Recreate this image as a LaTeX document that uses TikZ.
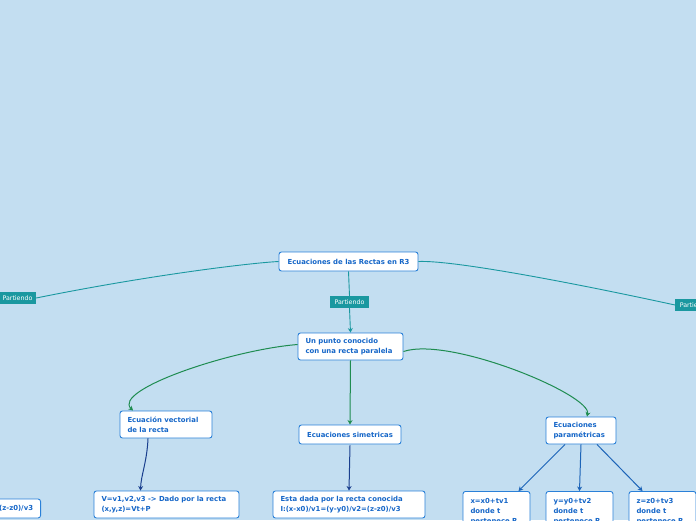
\documentclass[tikz,border=0pt]{standalone}
\usepackage{fontspec}
\setmainfont{DejaVu Sans}
\usetikzlibrary{arrows.meta}
\definecolor{bgc}{HTML}{C3DEF1}
\definecolor{boxborder}{HTML}{2A80D8}
\definecolor{boxtext}{HTML}{1566C8}
\definecolor{tealc}{HTML}{1A98A0}
\definecolor{greenc}{HTML}{1E8C50}
\definecolor{darkbluec}{HTML}{1A3F8E}
\definecolor{midbluec}{HTML}{1C64B8}
\newcommand{\boxfont}{\fontsize{6.9}{10}\selectfont\bfseries}
\newcommand{\labfont}{\fontsize{6.3}{7}\selectfont}
\tikzset{
  mbox/.style={draw=boxborder, fill=white, rounded corners=2.5pt, line width=0.9pt,
    font=\boxfont, text=boxtext, inner xsep=7.5pt, inner ysep=3pt, align=left},
  plabel/.style={fill=tealc, text=white, font=\labfont, inner sep=0pt,
    minimum height=12pt, minimum width=39pt},
  tealline/.style={draw=tealc, line width=0.9pt},
  greenline/.style={draw=greenc, line width=1pt},
  dbline/.style={draw=darkbluec, line width=1pt},
  mbline/.style={draw=midbluec, line width=1pt},
  tip/.style={-{Stealth[length=4.5pt,width=5pt]}}
}
\begin{document}
\begin{tikzpicture}[x=1pt,y=-1pt]
\clip (0,0) rectangle (696,520);
\fill[bgc] (0,0) rectangle (696,520);

% nodes
\node[mbox, minimum width=139pt, minimum height=19pt, align=center] (root) at (348.5,261.5) {Ecuaciones de las Rectas en R3};
\node[plabel] (pc) at (349.5,302) {Partiendo};
\node[plabel, minimum width=37pt] (pl) at (17.5,298) {Partiendo};
\node[plabel, anchor=west] (pr) at (675,305) {Partiendo};

\node[mbox, minimum width=105pt, minimum height=27pt, text width=90pt] (up) at (350.5,346.5) {Un punto conocido\\con una recta paralela};
\node[mbox, minimum width=92pt, minimum height=27pt, text width=77pt] (vec) at (166,424.5) {Ecuación vectorial\\de la recta};
\node[mbox, minimum width=102pt, minimum height=19pt, align=center] (sim) at (350,434.5) {Ecuaciones simetricas};
\node[mbox, minimum width=70pt, minimum height=27pt, text width=55pt] (par) at (581,430.5) {Ecuaciones\\paramétricas};

\node[mbox, minimum width=145pt, minimum height=27pt, text width=130pt] (vecd) at (166.5,504.5) {V=v1,v2,v3 -> Dado por la recta\\(x,y,z)=Vt+P};
\node[mbox, minimum width=152pt, minimum height=27pt, text width=137pt] (simd) at (349,504.5) {Esta dada por la recta conocida\\I:(x-x0)/v1=(y-y0)/v2=(z-z0)/v3};
\node[mbox, minimum height=19pt, anchor=east] (lft) at (41,508.5) {I:(x-x0)/v1=(y-y0)/v2=(z-z0)/v3};

\node[mbox, minimum width=67pt, minimum height=40pt, text width=52pt, anchor=north] (px) at (496.5,491) {x=x0+tv1\\donde t\\pertenece R.};
\node[mbox, minimum width=67pt, minimum height=40pt, text width=52pt, anchor=north] (py) at (579.5,491) {y=y0+tv2\\donde t\\pertenece R.};
\node[mbox, minimum width=67pt, minimum height=40pt, text width=52pt, anchor=north] (pz) at (662.5,491) {z=z0+tv3\\donde t\\pertenece R.};

% connectors
\draw[tealline] (root.west) .. controls (250,263) and (150,275) .. (pl.east);
\draw[tealline] (root.east) .. controls (450,260) and (560,280) .. (pr.west);
\draw[tealline] (root.south) -- (pc.north);
\draw[tealline, tip] (pc.south) -- (up.north);

\draw[greenline, tip] ([yshift=2pt]up.west) .. controls (230,350) and (112,390) .. ([xshift=-33pt]vec.north);
\draw[greenline, tip] ([yshift=-5pt]up.east) .. controls (450,336) and (592,395) .. ([xshift=6pt]par.north);
\draw[greenline, tip] (up.south) -- (sim.north);

\draw[dbline, tip] ([xshift=-18pt]vec.south) .. controls (147,462) and (141,475) .. ([xshift=-26pt]vecd.north);
\draw[dbline, tip] ([yshift=-1pt]sim.south) -- (simd.north);

\draw[mbline, tip] ([xshift=-16pt]par.south) -- ([xshift=22pt]px.north);
\draw[mbline, tip] (par.south) -- (py.north);
\draw[mbline, tip] ([xshift=16pt]par.south) -- ([xshift=-20pt]pz.north);
\end{tikzpicture}
\end{document}
